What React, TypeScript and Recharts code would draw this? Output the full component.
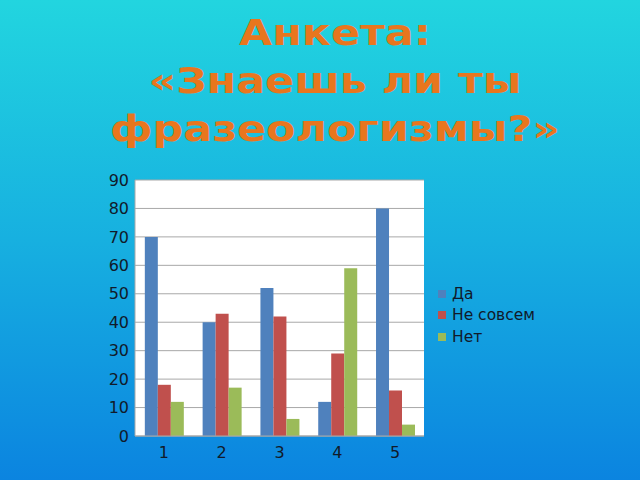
import { Bar, BarChart, CartesianGrid, Legend, XAxis, YAxis } from "recharts";

const categories = ["1", "2", "3", "4", "5"];
const yesValues = [70, 40, 52, 12, 80];
const notQuiteValues = [18, 43, 42, 29, 16];
const noValues = [12, 17, 6, 59, 4];
const yTicks = [0, 10, 20, 30, 40, 50, 60, 70, 80, 90];

const seriesNames = { yes: "Да", notQuite: "Не совсем", no: "Нет" };

const data = categories.map((name, i) => ({
  name,
  yes: yesValues[i],
  notQuite: notQuiteValues[i],
  no: noValues[i],
}));

const font = "'DejaVu Sans', Verdana, sans-serif";

function LegendBox({ payload }: any) {
  return (
    <div style={{ fontFamily: font, fontSize: 15.5, color: "#111a2a" }}>
      {(payload || []).map((entry: any) => (
        <div key={entry.value} style={{ display: "flex", alignItems: "center", height: 21.5 }}>
          <span style={{ width: 8, height: 8, background: entry.color, marginRight: 6 }} />
          <span>{entry.value}</span>
        </div>
      ))}
    </div>
  );
}

export default function App() {
  return (
    <div
      style={{
        position: "fixed",
        left: 0,
        top: 0,
        width: 640,
        height: 480,
        background: "linear-gradient(to bottom, #22d5df 0%, #17b0e0 50%, #0b84e0 100%)",
        overflow: "hidden",
      }}
    >
      <div
        style={{
          position: "absolute",
          top: 9,
          left: 15,
          width: 640,
          textAlign: "center",
          fontFamily: font,
          fontWeight: "bold",
          fontSize: 36,
          lineHeight: "48px",
          color: "#e8761e",
          transform: "scaleX(1.19)",
          transformOrigin: "320px 0",
        }}
      >
        Анкета:
        <br />
        «Знаешь ли ты
        <br />
        фразеологизмы?»
      </div>
      <div style={{ position: "absolute", left: 0, top: 0 }}>
        <BarChart
          width={640}
          height={480}
          data={data}
          margin={{ top: 180, right: 216, bottom: 14, left: 85 }}
          barCategoryGap="17%"
          barGap={0}
        >
          <CartesianGrid vertical={false} stroke="#a8a8a8" fill="#ffffff" fillOpacity={1} />
          <XAxis
            dataKey="name"
            height={30}
            tickLine={false}
            tickSize={0}
            tickMargin={11}
            axisLine={{ stroke: "#a8a8a8" }}
            tick={{ fill: "#111a2a", fontSize: 16, fontFamily: font }}
          />
          <YAxis
            width={50}
            domain={[0, 90]}
            ticks={yTicks}
            interval={0}
            tickLine={false}
            tickSize={0}
            tickMargin={6}
            axisLine={{ stroke: "#a8a8a8" }}
            tick={{ fill: "#111a2a", fontSize: 16, fontFamily: font }}
          />
          <Legend
            layout="vertical"
            align="center"
            verticalAlign="middle"
            content={<LegendBox />}
            wrapperStyle={{ left: 438, top: 283, width: 150, height: 70 }}
          />
          <Bar dataKey="yes" name={seriesNames.yes} fill="#4f81bd" isAnimationActive={false} />
          <Bar dataKey="notQuite" name={seriesNames.notQuite} fill="#c0504d" isAnimationActive={false} />
          <Bar dataKey="no" name={seriesNames.no} fill="#9bbb59" isAnimationActive={false} />
        </BarChart>
      </div>
    </div>
  );
}
